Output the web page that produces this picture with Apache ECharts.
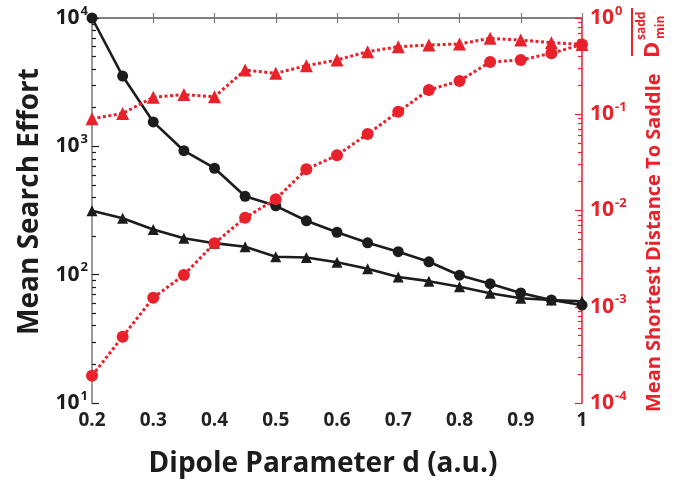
<!DOCTYPE html>
<html>
<head>
<meta charset="utf-8">
<script src="https://cdn.jsdelivr.net/npm/echarts@6/dist/echarts.min.js"></script>
<style>
  html, body { margin: 0; padding: 0; background: #fff; }
  #chart { width: 684px; height: 485px; }
</style>
</head>
<body>
<div id="chart"></div>
<script>
// dipole parameter d (a.u.)
var dipole = [0.2, 0.25, 0.3, 0.35, 0.4, 0.45, 0.5, 0.55, 0.6, 0.65, 0.7, 0.75, 0.8, 0.85, 0.9, 0.95, 1.0];

// mean search effort (left axis)
var effortCircle = [10000, 3530, 1550, 925, 675, 408, 344, 263, 214, 177, 151, 126, 99, 85, 72, 63.5, 58];
var effortTriangle = [315, 275, 225, 192, 176, 165, 138, 136, 125, 111, 96, 89, 80.5, 71.6, 65.5, 63.5, 62];

// mean shortest distance to saddle (right axis)
var distCircle = [0.000192, 0.000489, 0.00124, 0.00214, 0.00456, 0.00842, 0.0131, 0.0268, 0.0374, 0.0624, 0.106, 0.179, 0.222, 0.349, 0.366, 0.43, 0.53];
var distTriangle = [0.09, 0.102, 0.15, 0.16, 0.152, 0.288, 0.266, 0.32, 0.366, 0.447, 0.503, 0.524, 0.537, 0.615, 0.59, 0.554, 0.532];

var RED = '#e8212b';
var BLACK = '#1c1c1c';
var GRAY = '#7a7a7a';
var FONT = '"Open Sans", "Noto Sans", sans-serif';

function pairs(ys) {
  return dipole.map(function (x, i) { return [x, ys[i]]; });
}

// minor log ticks (2..9 within each decade), in log10 space
function minorLogTicks(lo, hi) {
  var out = [];
  for (var e = lo; e < hi; e++) {
    for (var m = 2; m <= 9; m++) out.push(e + Math.log10(m));
  }
  return out;
}

function powLabel(v) {
  var e = Math.round(Math.log10(v));
  return '{b|10}{s|' + e + '}';
}

var chart = echarts.init(document.getElementById('chart'));

var option = {
  animation: false,
  grid: { left: 92, right: 102, top: 18, bottom: 82 },
  xAxis: [{
    type: 'value',
    min: 0.2,
    max: 1,
    interval: 0.1,
    position: 'bottom',
    name: 'Dipole Parameter d (a.u.)',
    nameLocation: 'middle',
    nameGap: 47,
    nameTextStyle: {
      fontFamily: FONT, fontWeight: 'bold', fontSize: 28, color: BLACK,
      padding: [0, 28, 0, 0]
    },
    axisLine: { lineStyle: { color: GRAY, width: 1.5 } },
    axisTick: { inside: true, length: 5, lineStyle: { color: GRAY, width: 1.2 } },
    axisLabel: {
      margin: 8,
      fontFamily: FONT, fontWeight: 'bold', fontSize: 19, color: '#222',
      formatter: function (v) { return Math.abs(v - 1) < 1e-9 ? '1' : v.toFixed(1); }
    },
    splitLine: { show: false }
  }, {
    type: 'value',
    min: 0.2,
    max: 1,
    interval: 0.1,
    position: 'top',
    axisLine: { lineStyle: { color: GRAY, width: 1.5 } },
    axisTick: { inside: true, length: 5, lineStyle: { color: GRAY, width: 1.2 } },
    axisLabel: { show: false },
    splitLine: { show: false }
  }],
  yAxis: [{
    type: 'log',
    min: 10,
    max: 10000,
    position: 'left',
    name: 'Mean Search Effort',
    nameLocation: 'middle',
    nameGap: 48,
    nameRotate: 90,
    nameTextStyle: {
      fontFamily: FONT, fontWeight: 'bold', fontSize: 28, color: BLACK,
      padding: [0, 0, 0, 18]
    },
    axisLine: { lineStyle: { color: GRAY, width: 1.5 } },
    axisTick: { inside: true, length: 7, lineStyle: { color: BLACK, width: 1.2 } },
    axisLabel: {
      margin: 4,
      formatter: powLabel,
      rich: {
        b: { fontFamily: FONT, fontWeight: 'bold', fontSize: 21, color: BLACK, lineHeight: 24 },
        s: { fontFamily: FONT, fontWeight: 'bold', fontSize: 13, color: BLACK, padding: [0, 0, 14, 1] }
      }
    },
    splitLine: { show: false }
  }, {
    type: 'log',
    min: 0.0001,
    max: 1,
    position: 'right',
    axisLine: { lineStyle: { color: RED, width: 1.5 } },
    axisTick: { inside: true, length: 7, lineStyle: { color: RED, width: 1.2 } },
    axisLabel: {
      margin: 8,
      formatter: powLabel,
      rich: {
        b: { fontFamily: FONT, fontWeight: 'bold', fontSize: 21, color: RED, lineHeight: 24 },
        s: { fontFamily: FONT, fontWeight: 'bold', fontSize: 13, color: RED, padding: [0, 0, 14, 1] }
      }
    },
    splitLine: { show: false }
  }, {
    // minor ticks, left
    type: 'value',
    min: 1,
    max: 4,
    position: 'left',
    axisLine: { show: false },
    axisTick: { inside: true, length: 4, customValues: minorLogTicks(1, 4), lineStyle: { color: BLACK, width: 1.2 } },
    axisLabel: { show: false },
    splitLine: { show: false }
  }, {
    // minor ticks, right
    type: 'value',
    min: -4,
    max: 0,
    position: 'right',
    axisLine: { show: false },
    axisTick: { inside: true, length: 4, customValues: minorLogTicks(-4, 0), lineStyle: { color: RED, width: 1.2 } },
    axisLabel: { show: false },
    splitLine: { show: false }
  }],
  graphic: [{
    type: 'group',
    x: 654,
    y: 412,
    rotation: Math.PI / 2,
    silent: true,
    children: [{
      type: 'text',
      x: 0, y: 0,
      style: { text: 'Mean Shortest Distance To Saddle', font: 'bold 20px ' + FONT, fill: RED, align: 'left', verticalAlign: 'middle' }
    }, {
      type: 'text',
      x: 354, y: -1,
      style: { text: 'D', font: 'bold 22px ' + FONT, fill: RED, align: 'left', verticalAlign: 'middle' }
    }, {
      type: 'text',
      x: 372, y: -12.5,
      style: { text: 'sadd', font: 'bold 12px ' + FONT, fill: RED, align: 'left', verticalAlign: 'middle' }
    }, {
      type: 'text',
      x: 373, y: 7,
      style: { text: 'min', font: 'bold 12px ' + FONT, fill: RED, align: 'left', verticalAlign: 'middle' }
    }, {
      type: 'line',
      shape: { x1: 356, y1: -22, x2: 404, y2: -22 },
      style: { stroke: RED, lineWidth: 2 }
    }]
  }],
  series: [{
    name: 'effort circle',
    type: 'line',
    xAxisIndex: 0,
    yAxisIndex: 0,
    data: pairs(effortCircle),
    symbol: 'circle',
    symbolSize: 11,
    itemStyle: { color: BLACK },
    lineStyle: { color: BLACK, width: 2.6 }
  }, {
    name: 'effort triangle',
    type: 'line',
    xAxisIndex: 0,
    yAxisIndex: 0,
    data: pairs(effortTriangle),
    symbol: 'triangle',
    symbolSize: 11,
    itemStyle: { color: BLACK },
    lineStyle: { color: BLACK, width: 2.6 }
  }, {
    name: 'distance circle',
    type: 'line',
    xAxisIndex: 0,
    yAxisIndex: 1,
    data: pairs(distCircle),
    symbol: 'circle',
    symbolSize: 12,
    itemStyle: { color: RED },
    lineStyle: { color: RED, width: 3, type: [3, 2.5] }
  }, {
    name: 'distance triangle',
    type: 'line',
    xAxisIndex: 0,
    yAxisIndex: 1,
    data: pairs(distTriangle),
    symbol: 'triangle',
    symbolSize: 13,
    itemStyle: { color: RED },
    lineStyle: { color: RED, width: 3, type: [3, 2.5] }
  }]
};

chart.setOption(option);
</script>
</body>
</html>
